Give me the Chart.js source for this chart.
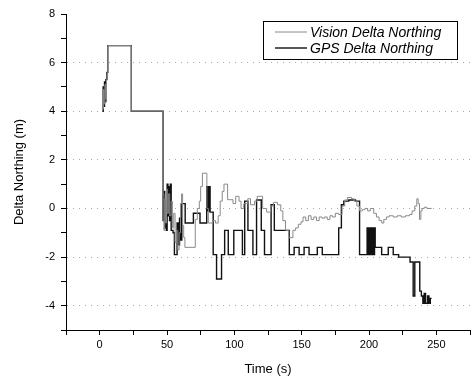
<!DOCTYPE html>
<html>
<head>
<meta charset="utf-8">
<script src="https://cdn.jsdelivr.net/npm/chart.js@4.4.1/dist/chart.umd.min.js"></script>
<style>
    html, body { margin: 0; padding: 0; background: #fff; }
    #chart { display: block; }
</style>
</head>
<body>
<canvas id="chart" width="473" height="378"></canvas>
<script>
// ============================================
// DATA
// ============================================

const gpsTime = [
    2.0, 2.6, 3.1, 3.6, 4.1, 4.6, 5.4, 6.0, 23.5, 47.1,
    47.7, 48.3, 48.9, 49.5, 50.1, 50.7, 51.3, 51.9, 52.5, 53.1,
    54.5, 55.5, 57.5, 58.5, 59.3, 60.0, 61.0, 63.5, 69.6, 74.5,
    79.5, 80.4, 81.0, 82.0, 84.3, 86.8, 90.5, 92.8, 95.5, 99.6,
    106.0, 107.7, 110.1, 113.8, 116.5, 120.0, 122.4, 127.3, 129.7, 140.8,
    144.4, 148.1, 151.8, 155.5, 161.6, 165.3, 177.5, 179.5, 181.3, 185.0,
    190.0, 193.0, 198.6, 199.4, 200.1, 200.9, 201.6, 202.4, 203.0, 203.6,
    204.1, 204.6, 209.4, 214.3, 218.0, 222.0, 230.5, 232.8, 234.0, 237.7,
    238.9, 240.0, 241.0, 242.0, 243.5, 244.5, 245.5, 246.5
];
const gpsNorthing = [
    4.0, 5.0, 4.2, 5.2, 4.4, 5.3, 5.6, 6.7, 4.0, -0.5,
    0.7, -0.8, 0.3, -0.9, 1.0, -0.3, 0.9, -0.5, 1.0, -0.9,
    -1.0, -1.9, -0.6, -1.5, -0.4, -1.3, 0.2, -0.6, -0.2, -0.6,
    0.9, -0.1, 0.9, -0.15, -1.9, -2.9, -1.9, -0.9, -1.9, -0.9,
    -1.9, 0.3, -0.9, -1.9, 0.35, -0.9, -1.9, 0.15, -0.9, -1.9,
    -1.6, -1.9, -1.6, -1.9, -1.6, -1.9, -0.8, 0.15, 0.3, 0.35,
    0.3, -1.9, -0.8, -1.9, -0.8, -1.9, -0.8, -1.9, -0.8, -1.9,
    -0.8, -1.6, -1.9, -1.6, -1.9, -2.0, -2.2, -3.6, -2.2, -3.4,
    -3.6, -3.9, -3.5, -3.9, -3.6, -3.9, -3.7, -3.7
];

const visionTime = [
    2.2, 2.8, 3.3, 3.9, 4.5, 5.0, 5.6, 6.0, 23.5, 47.1,
    47.7, 48.3, 49.0, 49.6, 50.2, 51.0, 52.0, 53.0, 54.0, 55.0,
    56.0, 57.0, 58.0, 59.0, 60.0, 60.8, 61.6, 62.4, 63.3, 71.0,
    72.5, 74.0, 75.0, 76.3, 79.6, 80.7, 84.0, 86.0, 88.0, 89.5,
    91.0, 92.3, 95.0, 99.0, 101.0, 103.5, 105.0, 107.0, 110.0, 112.0,
    115.0, 117.0, 121.0, 124.0, 127.0, 129.0, 132.0, 134.5, 136.0, 138.0,
    140.5, 143.5, 145.5, 147.5, 149.5, 151.0, 153.0, 155.0, 157.0, 159.0,
    161.0, 163.0, 165.0, 167.0, 169.0, 171.0, 173.0, 175.0, 177.5, 180.0,
    182.0, 184.0, 187.0, 189.0, 191.0, 193.0, 195.0, 197.0, 199.0, 201.0,
    203.5, 205.5, 207.5, 209.5, 211.0, 213.0, 215.0, 218.0, 221.0, 224.0,
    227.0, 230.0, 232.0, 234.0, 235.5, 236.5, 237.5, 238.5, 239.5, 241.0,
    243.0, 246.5
];
const visionNorthing = [
    4.1, 4.9, 4.3, 5.1, 4.5, 5.3, 5.5, 6.7, 4.0, 0.6,
    -0.9, 0.4, -0.6, 0.8, -0.2, 0.6, -0.3, 0.3, -0.8, -0.2,
    -1.4, -0.9, -1.7, -1.0, 0.2, 0.6, -0.7, -1.2, -1.6, -0.45,
    0.0, 0.3, 0.9, 1.45, 0.0, -0.6, -0.5, -0.6, -0.3, 0.3,
    0.7, 1.0, 0.36, 0.2, 0.5, 0.3, 0.0, 0.2, 0.4, 0.15,
    0.3, 0.5, 0.0, -0.15, 0.1, 0.25, 0.15, -0.1, -0.5, -0.9,
    -1.2, -0.9, -0.8, -0.65, -0.55, -0.35, -0.5, -0.3, -0.45, -0.35,
    -0.5, -0.35, -0.4, -0.35, -0.45, -0.3, -0.35, -0.2, -0.25, 0.1,
    0.35, 0.45, 0.4, 0.3, 0.1, -0.1, -0.05, 0.0, -0.1, 0.0,
    -0.2, -0.35, -0.5, -0.6, -0.45, -0.35, -0.3, -0.35, -0.3, -0.35,
    -0.3, -0.25, -0.1, 0.1, 0.4, 0.2, -0.45, -0.1, 0.0, 0.05,
    0.0, 0.0
];

const xTickLabels = [0, 50, 100, 150, 200, 250];
const yTickLabels = [-4, -2, 0, 2, 4, 6, 8];
const seriesNames = ['Vision Delta Northing', 'GPS Delta Northing'];

// ============================================
// LEGEND (boxed, inside plot like the original)
// ============================================

const boxedLegend = {
    id: 'boxedLegend',
    afterDraw(chart) {
        const ctx = chart.ctx;
        const x0 = 263, y0 = 21, w = 194, h = 38;
        ctx.save();
        ctx.fillStyle = '#fff';
        ctx.fillRect(x0, y0, w, h);
        ctx.strokeStyle = '#000';
        ctx.lineWidth = 1;
        ctx.strokeRect(x0 + 0.5, y0 + 0.5, w, h);
        ctx.font = 'italic 14px "Liberation Sans", Arial, sans-serif';
        ctx.textBaseline = 'middle';
        chart.data.datasets.forEach((ds, i) => {
            const y = y0 + 11 + i * 16;
            ctx.strokeStyle = ds.borderColor;
            ctx.lineWidth = ds.borderWidth;
            ctx.beginPath();
            ctx.moveTo(x0 + 12, y);
            ctx.lineTo(x0 + 44, y);
            ctx.stroke();
            ctx.fillStyle = '#000';
            ctx.fillText(ds.label, x0 + 47, y + 1);
        });
        ctx.restore();
    }
};

// ============================================
// CHART
// ============================================

function toPoints(times, values) {
    return times.map((t, i) => ({ x: t, y: values[i] }));
}

const tickFont = { family: '"Liberation Sans", Arial, sans-serif', size: 11 };
const titleFont = { family: '"Liberation Sans", Arial, sans-serif', size: 13 };

new Chart(document.getElementById('chart'), {
    type: 'line',
    data: {
        datasets: [{
            label: seriesNames[0],
            data: toPoints(visionTime, visionNorthing),
            borderColor: '#8a8a8a',
            borderWidth: 1,
            stepped: true,
            pointRadius: 0
        }, {
            label: seriesNames[1],
            data: toPoints(gpsTime, gpsNorthing),
            borderColor: '#111',
            borderWidth: 1.4,
            stepped: true,
            pointRadius: 0
        }]
    },
    options: {
        responsive: false,
        animation: false,
        events: [],
        layout: {
            padding: { top: 14, right: 1, left: 0, bottom: 0 }
        },
        plugins: {
            legend: { display: false },
            tooltip: { enabled: false }
        },
        scales: {
            x: {
                type: 'linear',
                min: -25,
                max: 275,
                afterFit: scale => { scale.height = 48; },
                ticks: {
                    stepSize: 25,
                    color: '#000',
                    font: tickFont,
                    padding: 3,
                    maxRotation: 0,
                    callback: v => xTickLabels.includes(v) ? v : ''
                },
                grid: {
                    drawOnChartArea: false,
                    tickLength: 5,
                    tickColor: '#000'
                },
                border: { color: '#000', width: 1 },
                title: {
                    display: true,
                    text: 'Time (s)',
                    color: '#000',
                    font: titleFont,
                    padding: { top: 0, bottom: 1 }
                }
            },
            y: {
                min: -5,
                max: 8,
                afterFit: scale => { scale.width = 66; },
                ticks: {
                    stepSize: 1,
                    color: '#000',
                    font: tickFont,
                    padding: 6,
                    callback: v => yTickLabels.includes(v) ? v : ''
                },
                grid: {
                    tickLength: 5,
                    tickColor: '#000',
                    color: ctx => {
                        const v = ctx.tick && ctx.tick.value;
                        return (v % 2 === 0 && v > -5 && v < 8) ? '#a8a8a8' : 'rgba(0,0,0,0)';
                    }
                },
                border: { color: '#000', width: 1, dash: [1, 5] },
                title: {
                    display: true,
                    text: 'Delta Northing (m)',
                    color: '#000',
                    font: titleFont,
                    padding: { top: 12, bottom: 0 }
                }
            }
        }
    },
    plugins: [boxedLegend]
});
</script>
</body>
</html>
